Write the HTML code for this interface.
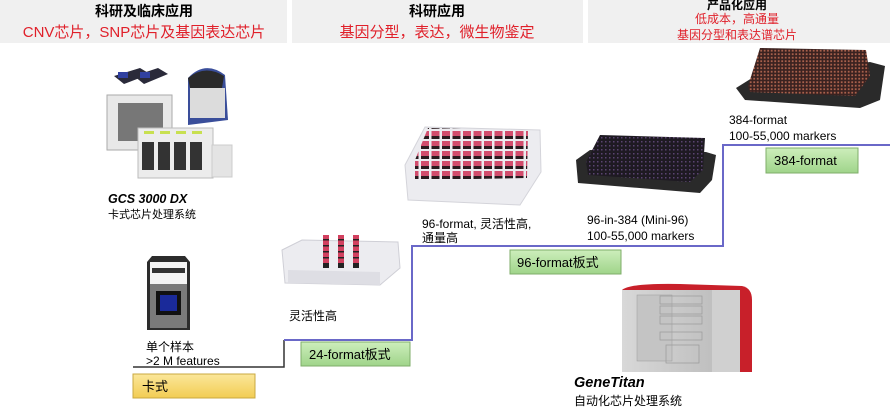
<!DOCTYPE html>
<html><head><meta charset="utf-8">
<style>
html,body{margin:0;padding:0;background:#fff;}
body{width:890px;height:411px;overflow:hidden;position:relative;font-family:"Liberation Sans","Noto Sans CJK SC",sans-serif;}
svg text{font-family:"Liberation Sans","Noto Sans CJK SC",sans-serif;}
</style></head><body>
<svg width="890" height="411" viewBox="0 0 890 411" xmlns="http://www.w3.org/2000/svg">
<defs>
<pattern id="red96" width="10.5" height="10" patternUnits="userSpaceOnUse">
<rect x="1" y="1" width="8" height="5" fill="#d24d6d"/><rect x="1" y="6" width="8" height="3" fill="#2a1a1e"/>
</pattern>
<pattern id="blk" width="4" height="4" patternUnits="userSpaceOnUse">
<rect width="4" height="4" fill="#1e1a22"/><rect x="1" y="1" width="1.5" height="1.5" fill="#5a4470"/>
</pattern>
<pattern id="brn" width="3.5" height="3.5" patternUnits="userSpaceOnUse">
<rect width="3.5" height="3.5" fill="#3a2220"/><rect x="0.8" y="0.8" width="1.8" height="1.8" fill="#a8604c"/>
</pattern>
<linearGradient id="yel" x1="0" y1="0" x2="0" y2="1"><stop offset="0" stop-color="#fbe79a"/><stop offset="1" stop-color="#f2cc52"/></linearGradient>
<linearGradient id="grn" x1="0" y1="0" x2="0" y2="1"><stop offset="0" stop-color="#cdeebb"/><stop offset="1" stop-color="#9fd48a"/></linearGradient>
<linearGradient id="gt" x1="0" y1="0" x2="1" y2="0"><stop offset="0" stop-color="#d8d8d8"/><stop offset="1" stop-color="#b8b8b8"/></linearGradient>
</defs>

<rect x="0" y="0" width="287" height="43" fill="#f0f0f0"/>
<rect x="292" y="0" width="291" height="43" fill="#f0f0f0"/>
<rect x="588" y="0" width="302" height="43" fill="#f0f0f0"/>
<text x="144" y="16" font-size="14" font-weight="bold" text-anchor="middle" fill="#000">科研及临床应用</text>
<text x="144" y="37" font-size="15" text-anchor="middle" fill="#e0202a">CNV芯片，SNP芯片及基因表达芯片</text>
<text x="437" y="16" font-size="14" font-weight="bold" text-anchor="middle" fill="#000">科研应用</text>
<text x="437" y="37" font-size="15" text-anchor="middle" fill="#e0202a">基因分型，表达，微生物鉴定</text>
<text x="737" y="9" font-size="12" font-weight="bold" text-anchor="middle" fill="#000">产品化应用</text>
<text x="737" y="23" font-size="12" text-anchor="middle" fill="#e0202a">低成本，高通量</text>
<text x="737" y="39" font-size="12" text-anchor="middle" fill="#e0202a">基因分型和表达谱芯片</text>

<polyline points="133,367 284,367 284,340" fill="none" stroke="#333" stroke-width="1.5"/>
<polyline points="284,340 412,340 412,246 723,246 723,145 890,145" fill="none" stroke="#6a68c8" stroke-width="2"/>

<g>
<polygon points="114,76 140,68 150,74 124,84" fill="#2a2a3a"/><rect x="118" y="72" width="10" height="6" fill="#3040a0"/>
<polygon points="134,76 158,68 168,74 144,84" fill="#2a2a3a"/><rect x="140" y="72" width="10" height="6" fill="#3040a0"/>
<rect x="107" y="95" width="65" height="55" fill="#e8e8e8" stroke="#aaa"/>
<rect x="118" y="103" width="45" height="38" fill="#777"/>
<path d="M188,78 Q205,60 225,75 L228,120 L188,125 Z" fill="#3a4e9a"/>
<rect x="190" y="88" width="35" height="30" fill="#dcdcdc"/>
<path d="M188,78 Q205,64 224,76 L222,88 L190,88 Z" fill="#2a2a2a"/>
<rect x="138" y="128" width="75" height="50" fill="#ececec" stroke="#bbb"/>
<rect x="142" y="142" width="12" height="28" fill="#333"/><rect x="158" y="142" width="12" height="28" fill="#333"/>
<rect x="174" y="142" width="12" height="28" fill="#333"/><rect x="190" y="142" width="12" height="28" fill="#333"/>
<rect x="144" y="131" width="10" height="3" fill="#c8e050"/><rect x="160" y="131" width="10" height="3" fill="#c8e050"/>
<rect x="176" y="131" width="10" height="3" fill="#c8e050"/><rect x="192" y="131" width="10" height="3" fill="#c8e050"/>
<rect x="212" y="145" width="20" height="32" fill="#e4e4e4" stroke="#ccc"/>
</g>
<text x="108" y="203" font-size="12.5" font-weight="bold" font-style="italic">GCS 3000 DX</text>
<text x="108" y="218" font-size="11">卡式芯片处理系统</text>

<path d="M147,262 L152,256 L185,256 L190,262 L190,330 L147,330 Z" fill="#2c2c2c"/>
<rect x="150" y="262" width="37" height="22" fill="#f4f4f4"/>
<rect x="152" y="268" width="33" height="5" fill="#333"/>
<rect x="150" y="284" width="37" height="44" fill="#7a7a7a"/>
<rect x="156" y="291" width="25" height="24" fill="#111"/><rect x="160" y="295" width="17" height="16" fill="#1a2a9a"/>
<text x="146" y="351" font-size="12">单个样本</text>
<text x="146" y="365" font-size="12">&gt;2 M features</text>
<rect x="133" y="374" width="122" height="24" fill="url(#yel)" stroke="#c9a840"/>
<text x="142" y="391" font-size="13">卡式</text>

<polygon points="282,250 302,240 398,242 400,268 380,285 285,283" fill="#ececf0" stroke="#cfcfd6"/>
<polygon points="288,270 380,272 380,285 288,283" fill="#dedee4"/>
<g fill="#d2405f"><rect x="323" y="235" width="6" height="33"/><rect x="338" y="235" width="6" height="33"/><rect x="353" y="235" width="6" height="33"/></g>
<g fill="#222"><rect x="323" y="239" width="6" height="1.5"/><rect x="323" y="245" width="6" height="1.5"/><rect x="323" y="251" width="6" height="1.5"/><rect x="323" y="257" width="6" height="1.5"/><rect x="323" y="263" width="6" height="5"/>
<rect x="338" y="239" width="6" height="1.5"/><rect x="338" y="245" width="6" height="1.5"/><rect x="338" y="251" width="6" height="1.5"/><rect x="338" y="257" width="6" height="1.5"/><rect x="338" y="263" width="6" height="5"/>
<rect x="353" y="239" width="6" height="1.5"/><rect x="353" y="245" width="6" height="1.5"/><rect x="353" y="251" width="6" height="1.5"/><rect x="353" y="257" width="6" height="1.5"/><rect x="353" y="263" width="6" height="5"/></g>
<text x="289" y="320" font-size="12">灵活性高</text>
<rect x="301" y="342" width="109" height="24" fill="url(#grn)" stroke="#7fae6a"/>
<text x="309" y="359" font-size="13">24-format板式</text>

<polygon points="405,165 425,127 540,130 541,172 520,205 408,200" fill="#ececf0" stroke="#d4d4da"/>
<polygon points="415,160 428,128 528,131 527,178 415,180" fill="url(#red96)"/>
<text x="422" y="228" font-size="12">96-format, 灵活性高,</text>
<text x="422" y="242" font-size="12">通量高</text>
<rect x="510" y="250" width="111" height="24" fill="url(#grn)" stroke="#7fae6a"/>
<text x="517" y="267" font-size="13">96-format板式</text>

<polygon points="576,160 590,150 706,152 716,155 712,180 700,193 578,183" fill="#2a2a2a"/>
<polygon points="586,162 600,135 705,138 703,170 690,182 588,175" fill="url(#blk)"/>
<text x="587" y="224" font-size="12">96-in-384 (Mini-96)</text>
<text x="587" y="240" font-size="12">100-55,000 markers</text>

<polygon points="736,88 752,78 870,62 885,66 880,100 860,108 745,100" fill="#2a2a2a"/>
<polygon points="748,86 760,48 866,50 870,76 855,96 750,92" fill="url(#brn)"/>
<text x="729" y="124" font-size="12">384-format</text>
<text x="729" y="140" font-size="12">100-55,000 markers</text>
<rect x="766" y="148" width="92" height="25" fill="url(#grn)" stroke="#7fae6a"/>
<text x="774" y="165" font-size="13">384-format</text>

<path d="M622,290 Q630,283 680,284 L742,286 Q752,288 752,300 L752,372 L622,372 Z" fill="#c8202a"/>
<rect x="622" y="290" width="118" height="82" fill="url(#gt)"/>
<rect x="637" y="295" width="35" height="66" fill="#c4c4c4" stroke="#999" stroke-width="0.5"/>
<g stroke="#999" stroke-width="0.7" fill="none"><rect x="660" y="296" width="42" height="8"/><rect x="660" y="306" width="42" height="8"/><rect x="660" y="316" width="42" height="8"/><rect x="660" y="332" width="42" height="8"/><rect x="666" y="345" width="33" height="18"/></g>
<rect x="712" y="290" width="28" height="82" fill="#d0d0d0"/>
<text x="574" y="387" font-size="14.5" font-weight="bold" font-style="italic">GeneTitan</text>
<text x="574" y="405" font-size="12">自动化芯片处理系统</text>
</svg>
</body></html>
